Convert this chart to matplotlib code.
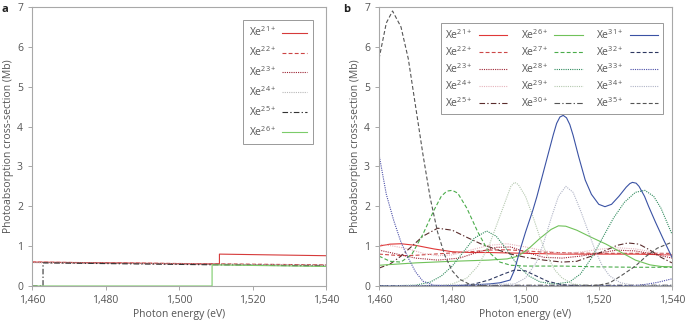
import matplotlib
matplotlib.use('Agg')
import matplotlib.pyplot as plt

plt.rcParams['font.family'] = ['Open Sans', 'DejaVu Sans']
plt.rcParams['mathtext.default'] = 'regular'

# ---- panel a data (photon energy eV, cross-section Mb) ----
a_x21 = [1460, 1511, 1511, 1540]
a_y21 = [0.60, 0.55, 0.80, 0.76]
a_x22 = [1460, 1540]
a_y22 = [0.60, 0.53]
a_x23 = [1460, 1540]
a_y23 = [0.59, 0.52]
a_x24 = [1460, 1540]
a_y24 = [0.59, 0.52]
a_x25 = [1460, 1463, 1463, 1540]
a_y25 = [0.0, 0.0, 0.58, 0.50]
a_x26 = [1460, 1509, 1509, 1540]
a_y26 = [0.0, 0.0, 0.53, 0.49]

# ---- panel b data ----
b_x21 = [1460, 1463, 1466, 1470, 1475, 1480, 1485, 1490, 1500, 1510, 1520, 1530, 1540]
b_y21 = [1.00, 1.05, 1.06, 1.02, 0.93, 0.86, 0.84, 0.84, 0.82, 0.80, 0.80, 0.80, 0.78]
b_x22 = [1460, 1463, 1466, 1470, 1475, 1480, 1485, 1490, 1495, 1500, 1505, 1512, 1520, 1530, 1540]
b_y22 = [0.80, 0.78, 0.76, 0.77, 0.80, 0.83, 0.86, 0.90, 0.91, 0.88, 0.85, 0.83, 0.82, 0.82, 0.82]
b_x23 = [1460, 1465, 1470, 1476, 1482, 1487, 1492, 1496, 1500, 1505, 1510, 1515, 1520, 1525, 1530, 1535, 1540]
b_y23 = [0.90, 0.80, 0.70, 0.65, 0.70, 0.85, 0.97, 0.98, 0.85, 0.72, 0.70, 0.75, 0.83, 0.90, 0.88, 0.80, 0.70]
b_x24 = [1460, 1464, 1468, 1472, 1476, 1480, 1485, 1490, 1495, 1500, 1505, 1510, 1515, 1520, 1525, 1530, 1535, 1540]
b_y24 = [1.05, 1.00, 0.93, 0.82, 0.76, 0.78, 0.90, 1.02, 1.06, 0.98, 0.88, 0.82, 0.85, 0.92, 0.96, 0.93, 0.85, 0.75]
b_x25 = [1460, 1463, 1466, 1469, 1472, 1476, 1480, 1484, 1488, 1492, 1496, 1500, 1505, 1510,
         1514, 1518, 1522, 1525, 1528, 1531, 1534, 1537, 1540]
b_y25 = [0.45, 0.55, 0.75, 1.00, 1.25, 1.45, 1.40, 1.22, 1.05, 0.92, 0.80, 0.72, 0.65, 0.60,
         0.62, 0.75, 0.90, 1.02, 1.08, 1.05, 0.90, 0.72, 0.58]
b_x26 = [1460, 1470, 1480, 1490, 1495, 1498, 1501, 1504, 1507, 1509, 1511, 1514, 1518, 1522,
         1526, 1530, 1534, 1537, 1540]
b_y26 = [0.52, 0.58, 0.62, 0.65, 0.68, 0.75, 0.95, 1.20, 1.42, 1.51, 1.50, 1.40, 1.22, 1.05,
         0.85, 0.65, 0.53, 0.49, 0.48]
b_x27 = [1460, 1463, 1466, 1469, 1472, 1475, 1477, 1478.5, 1480, 1481.5, 1484, 1487, 1490, 1493,
         1496, 1500, 1510, 1520, 1530, 1540]
b_y27 = [0.75, 0.62, 0.60, 0.80, 1.30, 1.90, 2.25, 2.38, 2.40, 2.33, 1.95, 1.35, 0.85, 0.60,
         0.52, 0.50, 0.50, 0.48, 0.47, 0.47]
b_x28 = [1460, 1470, 1474, 1477, 1480, 1483, 1486, 1489.4, 1492, 1495, 1498, 1501, 1504, 1508,
         1512, 1515, 1518, 1521, 1524, 1527, 1530, 1532.6, 1535, 1537, 1540]
b_y28 = [0.0, 0.02, 0.10, 0.25, 0.50, 0.85, 1.20, 1.38, 1.25, 0.90, 0.50, 0.25, 0.10, 0.05,
         0.10, 0.30, 0.70, 1.20, 1.70, 2.10, 2.35, 2.40, 2.25, 1.95, 1.30]
b_x29 = [1460, 1476, 1480, 1484, 1487, 1490, 1492, 1494, 1496, 1497, 1498, 1500, 1502, 1504,
         1506, 1508, 1510, 1513, 1518, 1540]
b_y29 = [0.0, 0.0, 0.05, 0.20, 0.50, 1.00, 1.50, 2.00, 2.50, 2.60, 2.55, 2.25, 1.75, 1.20,
         0.75, 0.40, 0.20, 0.05, 0.0, 0.0]
b_x30 = [1460, 1480, 1500, 1520, 1540]
b_y30 = [0.0, 0.01, 0.02, 0.02, 0.02]
b_x31 = [1460, 1470, 1478, 1484, 1490, 1493, 1495.8, 1497, 1498.5, 1500, 1502, 1503.1, 1505,
         1507.6, 1508.5, 1509.4, 1510.3, 1511.2, 1512.1, 1513, 1514.5, 1516.3, 1518, 1520,
         1521.7, 1523.5, 1525.5, 1527.5, 1528.5, 1529.2, 1530.2, 1531, 1532.5, 1533.6, 1535.5,
         1537.5, 1540]
b_y31 = [0.0, 0.0, 0.005, 0.02, 0.05, 0.08, 0.15, 0.40, 0.90, 1.35, 1.90, 2.24, 2.90,
         3.80, 4.08, 4.24, 4.28, 4.22, 4.05, 3.78, 3.25, 2.66, 2.30, 2.05, 1.99, 2.05, 2.25,
         2.48, 2.57, 2.60, 2.58, 2.50, 2.25, 2.00, 1.60, 1.20, 0.72]
b_x32 = [1460, 1482, 1486, 1490, 1494, 1497, 1500, 1503, 1506, 1510, 1515, 1540]
b_y32 = [0.0, 0.0, 0.05, 0.15, 0.30, 0.40, 0.38, 0.25, 0.12, 0.03, 0.0, 0.0]
b_x33 = [1460, 1462, 1464, 1466, 1468, 1470, 1472, 1475, 1480, 1528, 1532, 1536, 1540]
b_y33 = [3.30, 2.30, 1.65, 1.10, 0.70, 0.35, 0.12, 0.02, 0.0, 0.0, 0.03, 0.09, 0.18]
b_x34 = [1460, 1497, 1500, 1503, 1505, 1507, 1509, 1511, 1513, 1515, 1517, 1519, 1521, 1523,
         1526, 1530, 1540]
b_y34 = [0.0, 0.05, 0.20, 0.60, 1.10, 1.70, 2.25, 2.50, 2.35, 1.90, 1.40, 0.90, 0.50, 0.25,
         0.08, 0.01, 0.0]
b_x35 = [1460, 1462, 1463.7, 1466, 1468, 1470, 1472, 1474, 1476, 1478, 1480, 1482, 1485, 1490,
         1515, 1520, 1523, 1526, 1530, 1533, 1536, 1540]
b_y35 = [5.70, 6.60, 6.90, 6.50, 5.70, 4.50, 3.30, 2.20, 1.35, 0.76, 0.38, 0.17, 0.03, 0.0,
         0.0, 0.02, 0.08, 0.25, 0.50, 0.75, 0.95, 1.10]

x_ticks = [1460, 1480, 1500, 1520, 1540]
x_ticklabels = ['1,460', '1,480', '1,500', '1,520', '1,540']
y_ticks = [0, 1, 2, 3, 4, 5, 6, 7]

DASH = (0, (3.5, 2))
DOT = (0, (1, 1))
DASHDOT = (0, (5, 2, 1.2, 2))

TEXT = '#555555'
SPINE = '#a8a8a8'


def ion(n):
    return 'Xe$^{%d+}$' % n


def style_axes(ax):
    ax.set_xlim(1460, 1540)
    ax.set_ylim(0, 7)
    ax.set_xticks(x_ticks)
    ax.set_xticklabels(x_ticklabels)
    ax.set_yticks(y_ticks)
    for s in ax.spines.values():
        s.set_color(SPINE)
        s.set_linewidth(0.8)
    ax.tick_params(colors=SPINE, labelcolor=TEXT, labelsize=7.5, length=3, width=0.7)
    ax.set_xlabel('Photon energy (eV)', fontsize=7.5, color=TEXT, labelpad=2)
    ax.set_ylabel('Photoabsorption cross-section (Mb)', fontsize=7.5, color=TEXT, labelpad=2)


fig = plt.figure(figsize=(6.85, 3.22), dpi=100)
ax_a = fig.add_axes([32 / 685, 1 - 286 / 322, 294 / 685, 279 / 322])
ax_b = fig.add_axes([379 / 685, 1 - 286 / 322, 293 / 685, 279 / 322])

# panel a
lw = 0.8
ax_a.plot(a_x21, a_y21, color='#d63a3a', lw=lw, label=ion(21))
ax_a.plot(a_x22, a_y22, color='#cc4444', lw=lw, ls=DASH, label=ion(22))
ax_a.plot(a_x23, a_y23, color='#9a2030', lw=lw, ls=DOT, label=ion(23))
ax_a.plot(a_x24, a_y24, color='#b8b8b8', lw=lw, ls=DOT, label=ion(24))
ax_a.plot(a_x25, a_y25, color='#333333', lw=lw, ls=DASHDOT, label=ion(25))
ax_a.plot(a_x26, a_y26, color='#7ccc6a', lw=lw, label=ion(26))
style_axes(ax_a)
leg_a = ax_a.legend(loc='upper right', bbox_to_anchor=(0.972, 0.971), markerfirst=False,
                    fontsize=7.5, labelspacing=0.58, handlelength=2.4, handletextpad=0.6,
                    borderpad=0.5, fancybox=False, framealpha=1, edgecolor='#999999',
                    labelcolor=TEXT)
leg_a.get_frame().set_linewidth(0.7)

# panel b
series_b = [
    (b_x21, b_y21, '#e03838', '-', 21),
    (b_x22, b_y22, '#cc4848', DASH, 22),
    (b_x23, b_y23, '#a02636', DOT, 23),
    (b_x24, b_y24, '#e6b4bc', DOT, 24),
    (b_x25, b_y25, '#5a2c2c', DASHDOT, 25),
    (b_x26, b_y26, '#70c25a', '-', 26),
    (b_x27, b_y27, '#4aac4a', DASH, 27),
    (b_x28, b_y28, '#2e8a5c', DOT, 28),
    (b_x29, b_y29, '#b4c8ae', DOT, 29),
    (b_x30, b_y30, '#555555', DASHDOT, 30),
    (b_x31, b_y31, '#3a52a4', '-', 31),
    (b_x32, b_y32, '#2e3860', DASH, 32),
    (b_x33, b_y33, '#4a4ea8', DOT, 33),
    (b_x34, b_y34, '#b0b4c6', DOT, 34),
    (b_x35, b_y35, '#555555', DASH, 35),
]
for xs, ys, c, ls, n in series_b:
    ax_b.plot(xs, ys, color=c, lw=lw, ls=ls, label=ion(n))
style_axes(ax_b)
leg_b = ax_b.legend(loc='upper right', bbox_to_anchor=(0.986, 0.96), ncol=3, markerfirst=False,
                    fontsize=7.5, labelspacing=0.3, handlelength=2.7, handletextpad=0.6,
                    columnspacing=1.3, borderpad=0.45, fancybox=False, framealpha=1,
                    edgecolor='#999999', labelcolor=TEXT)
leg_b.get_frame().set_linewidth(0.7)

fig.text(2 / 685, 1 - 9 / 322, 'a', fontsize=8, fontweight='bold', color='#222222', va='center')
fig.text(343 / 685, 1 - 9 / 322, 'b', fontsize=8, fontweight='bold', color='#222222', va='center')

fig.savefig('out.png', dpi=100)
